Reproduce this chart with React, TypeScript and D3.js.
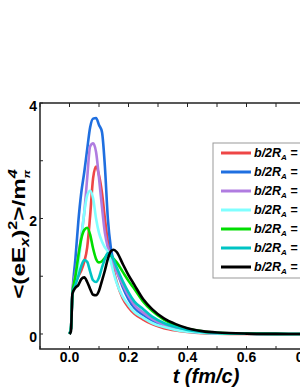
import React from "react";
import * as d3 from "d3";

// time samples (fm/c)
const times = [
  0, 0.005, 0.01, 0.02, 0.03, 0.04, 0.05, 0.06, 0.07, 0.08, 0.09, 0.1, 0.11, 0.12, 0.13, 0.14,
  0.15, 0.16, 0.18, 0.2, 0.22, 0.25, 0.28, 0.32, 0.36, 0.4, 0.45, 0.5, 0.6, 0.7, 0.8, 0.9,
];

// <(eEx)^2>/m_pi^4, one array per impact parameter
const redVals = [
  0, 0.1, 0.7, 0.9, 1.0, 1.1, 1.25, 1.5, 2.05, 2.7, 2.9, 2.75, 2.45, 2.0, 1.6, 1.35,
  1.1, 0.9, 0.62, 0.46, 0.35, 0.25, 0.17, 0.1, 0.06, 0.035, 0.015, 0.007, 0.002, 0.001, 0, 0,
];
const blueVals = [
  0, 0.1, 0.7, 1.3, 1.95, 2.45, 2.8, 3.2, 3.58, 3.73, 3.74, 3.62, 3.5, 2.9, 2.0, 1.5,
  1.25, 1.1, 0.82, 0.6, 0.45, 0.33, 0.23, 0.14, 0.085, 0.05, 0.025, 0.012, 0.003, 0.001, 0, 0,
];
const purpleVals = [
  0, 0.1, 0.75, 1.05, 1.35, 1.7, 2.1, 2.7, 3.25, 3.3, 3.15, 2.7, 2.2, 1.75, 1.5, 1.35,
  1.2, 1.08, 0.86, 0.66, 0.5, 0.37, 0.26, 0.16, 0.095, 0.055, 0.028, 0.013, 0.004, 0.001, 0, 0,
];
const cyanVals = [
  0, 0.1, 0.7, 0.9, 1.2, 1.65, 2.1, 2.4, 2.48, 2.35, 2.0, 1.75, 1.6, 1.5, 1.42, 1.25,
  1.05, 0.88, 0.65, 0.5, 0.38, 0.28, 0.19, 0.12, 0.07, 0.04, 0.02, 0.01, 0.003, 0.001, 0, 0,
];
const greenVals = [
  0, 0.1, 0.7, 1.0, 1.35, 1.65, 1.8, 1.84, 1.72, 1.48, 1.3, 1.24, 1.26, 1.32, 1.38, 1.36,
  1.3, 1.24, 1.08, 0.92, 0.78, 0.56, 0.4, 0.25, 0.15, 0.09, 0.045, 0.022, 0.006, 0.002, 0, 0,
];
const tealVals = [
  0, 0.1, 0.7, 0.85, 1.0, 1.18, 1.28, 1.25, 1.08, 0.93, 0.9, 0.98, 1.15, 1.3, 1.4, 1.38,
  1.28, 1.15, 0.92, 0.72, 0.56, 0.43, 0.3, 0.19, 0.12, 0.07, 0.035, 0.018, 0.005, 0.002, 0, 0,
];
const blackVals = [
  0, 0.05, 0.7, 0.8, 0.85, 0.95, 0.98, 0.9, 0.78, 0.68, 0.67, 0.75, 0.92, 1.1, 1.3, 1.43,
  1.46, 1.42, 1.22, 1.02, 0.85, 0.6, 0.43, 0.27, 0.17, 0.1, 0.05, 0.025, 0.007, 0.002, 0, 0,
];

const seriesVals = [redVals, blueVals, purpleVals, cyanVals, greenVals, tealVals, blackVals];
const seriesColors = ["#ee4646", "#1f6fe0", "#b07ce0", "#80ffff", "#00dd00", "#00c4c4", "#000000"];

const xMajor = [0, 0.2, 0.4, 0.6, 0.8];
const xMinor = [-0.1, 0, 0.1, 0.2, 0.3, 0.4, 0.5, 0.6, 0.7, 0.8];
const yMajor = [0, 2, 4];
const yMinor = [0, 1, 2, 3, 4];

const FONT = "'Liberation Sans', Arial, sans-serif";

export default function App() {
  const width = 300;
  const height = 388;

  const x = d3.scaleLinear().domain([-0.1, 0.9]).range([40, 335]);
  const y = d3.scaleLinear().domain([-0.26, 4]).range([349, 103]);

  const line = d3
    .line<number>()
    .x((_, i) => x(times[i]))
    .y((d) => y(d))
    .curve(d3.curveMonotoneX);

  const legendX = 213;
  const legendY = 143;

  return (
    <svg
      width={width}
      height={height}
      style={{ position: "absolute", left: 0, top: 0, background: "#fff" }}
      fontFamily={FONT}
    >
      {/* curves */}
      {seriesVals.map((vals, i) => (
        <path
          key={i}
          d={line(vals) || ""}
          fill="none"
          stroke={seriesColors[i]}
          strokeWidth={2.6}
          strokeLinejoin="round"
        />
      ))}

      {/* frame */}
      <rect
        x={x(-0.1)}
        y={y(4)}
        width={x(0.9) - x(-0.1)}
        height={y(-0.26) - y(4)}
        fill="none"
        stroke="#222"
        strokeWidth={1.5}
      />

      {/* x ticks, bottom and top, pointing in */}
      {xMinor.map((t) => (
        <g key={"xt" + t}>
          <line x1={x(t)} x2={x(t)} y1={y(-0.26)} y2={y(-0.26) - 3} stroke="#222" strokeWidth={1} />
          <line x1={x(t)} x2={x(t)} y1={y(4)} y2={y(4) + 4} stroke="#222" strokeWidth={1} />
        </g>
      ))}
      {xMajor.map((t) => (
        <text
          key={"xl" + t}
          x={x(t)}
          y={362}
          textAnchor="middle"
          fontSize={14}
          fontWeight="bold"
        >
          {d3.format(".1f")(t)}
        </text>
      ))}

      {/* y ticks */}
      {yMinor.map((v) => (
        <line key={"yt" + v} x1={x(-0.1)} x2={x(-0.1) + 3} y1={y(v)} y2={y(v)} stroke="#222" strokeWidth={1} />
      ))}
      {yMajor.map((v) => (
        <text
          key={"yl" + v}
          x={37}
          y={y(v) + 8}
          textAnchor="end"
          fontSize={14}
          fontWeight="bold"
        >
          {v}
        </text>
      ))}

      {/* axis titles */}
      <text
        x={206}
        y={383}
        textAnchor="middle"
        fontSize={20}
        fontWeight="bold"
        fontStyle="italic"
      >
        t (fm/c)
      </text>
      <text
        transform="translate(25,234) rotate(-90) scale(1.35,1)"
        textAnchor="middle"
        fontSize={18}
        fontWeight="bold"
      >
        {"<(eE"}
        <tspan fontSize={12} fontStyle="italic" dy={4}>x</tspan>
        <tspan dy={-4}>)</tspan>
        <tspan fontSize={12} dy={-8}>2</tspan>
        <tspan dy={8}>{">/m"}</tspan>
        <tspan fontSize={12} fontStyle="italic" dy={-8}>4</tspan>
        <tspan fontSize={9} fontStyle="italic" dx={-7} dy={13}>π</tspan>
      </text>

      {/* legend */}
      <rect
        x={legendX}
        y={legendY}
        width={120}
        height={135}
        fill="#fff"
        stroke="#999"
        strokeWidth={1}
      />
      {seriesColors.map((c, i) => {
        const ly = 153 + i * 19;
        return (
          <g key={"lg" + i}>
            <line x1={221} x2={251} y1={ly} y2={ly} stroke={c} strokeWidth={3} />
            <text x={254} y={ly + 4} fontSize={12.5} fontWeight="bold" fontStyle="italic">
              b/2R
              <tspan fontSize={8} dy={3}>A</tspan>
              <tspan dy={-3}> =</tspan>
            </text>
          </g>
        );
      })}
    </svg>
  );
}
